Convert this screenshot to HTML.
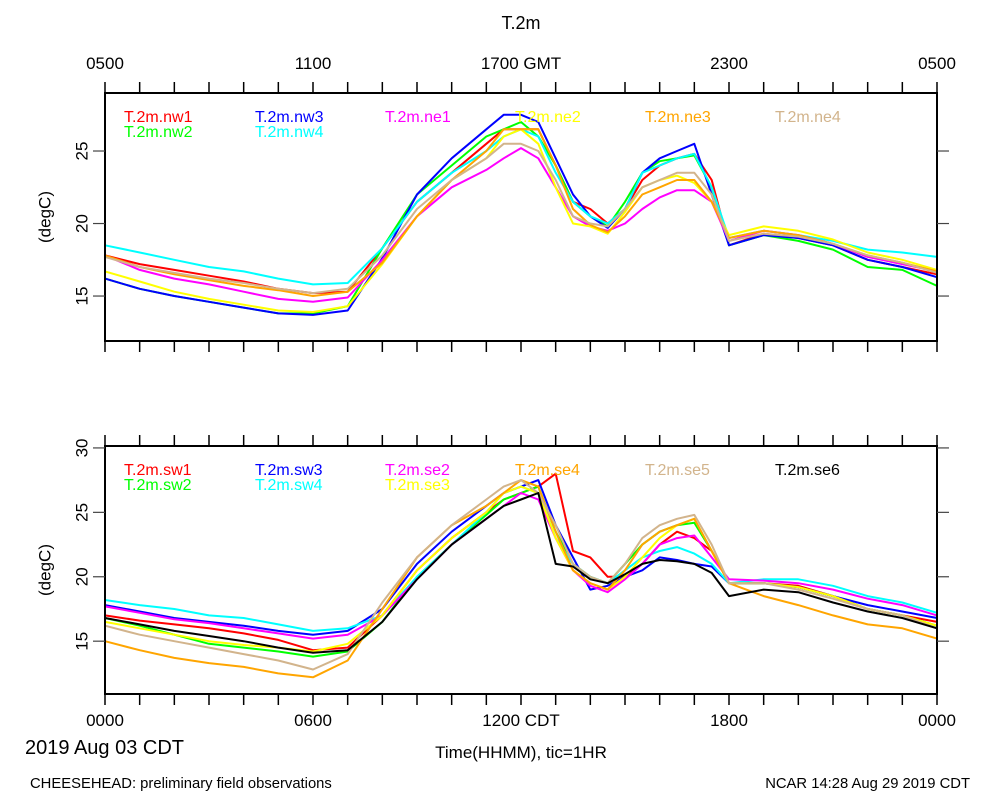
<!DOCTYPE html>
<html><head><meta charset="utf-8"><style>
html,body{margin:0;padding:0;background:#fff;}
svg{display:block;font-family:"Liberation Sans",sans-serif;}
</style></head><body>
<svg id="chart" width="1000" height="800" viewBox="0 0 1000 800">
<text x="521" y="29" font-size="18" text-anchor="middle">T.2m</text>
<text x="25" y="754" font-size="20">2019 Aug 03 CDT</text>
<text x="521" y="758" font-size="17" text-anchor="middle">Time(HHMM), tic=1HR</text>
<text x="30" y="788" font-size="14.8">CHEESEHEAD: preliminary field observations</text>
<text x="970" y="788" font-size="14.8" text-anchor="end">NCAR 14:28 Aug 29 2019 CDT</text>
</svg>
<script>
const times=[0,1,2,3,4,5,6,7,8,9,10,11,11.5,12,12.5,13,13.5,14,14.5,15,15.5,16,16.5,17,17.5,18,19,20,21,22,23,24];
const topTicks=[15,20,25];
const bottomTicks=[15,20,25,30];
const topXLabels=["0500","1100","1700 GMT","2300","0500"];
const bottomXLabels=["0000","0600","1200 CDT","1800","0000"];
const topNames=["T.2m.nw1","T.2m.nw2","T.2m.nw3","T.2m.nw4","T.2m.ne1","T.2m.ne2","T.2m.ne3","T.2m.ne4"];
const topColors=["#ff0000","#00ff00","#0000ff","#00ffff","#ff00ff","#ffff00","#ffa500","#d2b48c"];
const nw1=[17.8,17.2,16.8,16.4,16,15.5,15.2,15.3,18.3,21.5,23.5,25.5,26.5,26.5,26.5,24,21.5,21,20,21,23,24,24.5,24.8,23,18.5,19.3,19,18.5,17.5,17,16.5];
const nw2=[16.2,15.5,15,14.6,14.2,13.8,13.8,14.3,18.3,22,24,26,26.5,27,26,24,21.5,20.5,19.8,21.5,23.5,24.3,24.5,24.7,22.5,18.5,19.2,18.8,18.2,17,16.8,15.7];
const nw3=[16.2,15.5,15,14.6,14.2,13.8,13.7,14.0,17.6,22,24.5,26.5,27.5,27.5,27,24.5,22,20.5,19.7,21,23.5,24.5,25,25.5,22,18.5,19.2,19,18.5,17.5,17,16.3];
const nw4=[18.5,18,17.5,17,16.7,16.2,15.8,15.9,18.3,21.5,23.5,25,26,26.5,26,23.5,21.5,20.5,20,21,23.5,24,24.5,24.8,22.5,19,19.5,19.2,18.8,18.2,18,17.7];
const ne1=[17.8,16.8,16.2,15.8,15.3,14.8,14.6,14.9,17.5,20.5,22.5,23.7,24.5,25.2,24.5,22.5,20.5,19.8,19.5,20,21,21.8,22.3,22.3,21.5,18.8,19.5,19.2,18.6,17.7,17.2,16.7];
const ne2=[16.7,16,15.3,14.8,14.4,14,13.9,14.3,17.2,20.5,23,24.5,26,26.5,25.5,22.5,20,19.8,19.3,20.8,22.5,23,23.3,22.8,21.5,19.2,19.8,19.5,18.9,18,17.5,16.8];
const ne3=[17.8,17,16.5,16.1,15.7,15.4,15,15.3,17.3,20.5,23,25,26.5,26.5,26.5,24,21,19.9,19.4,20.5,22,22.5,23,23,21.5,19,19.5,19.2,18.6,17.8,17.3,16.7];
const ne4=[17.7,17,16.6,16.2,15.9,15.5,15.2,15.5,17.8,21,23,24.5,25.5,25.5,25,23,20.5,20,19.8,21,22.5,23,23.5,23.5,22,18.8,19.3,19.1,18.6,17.8,17.3,16.6];
const bottomNames=["T.2m.sw1","T.2m.sw2","T.2m.sw3","T.2m.sw4","T.2m.se2","T.2m.se3","T.2m.se4","T.2m.se5","T.2m.se6"];
const bottomColors=["#ff0000","#00ff00","#0000ff","#00ffff","#ff00ff","#ffff00","#ffa500","#d2b48c","#000000"];
const sw1=[17,16.6,16.3,16,15.6,15.1,14.3,14.5,17,20.5,23,25,26,26.5,27,28,22,21.5,20,20,21,22.5,23.5,23,22,19.5,19.5,19.3,18.5,17.5,17,16.5];
const sw2=[16.8,16.2,15.5,14.8,14.5,14.2,13.8,14.2,16.5,20,22.5,24.8,26,26.5,27,23.5,21,20,19.5,21,22.5,23.5,24,24.2,22,19.5,19.5,19.2,18.5,17.5,17,16.2];
const sw3=[17.8,17.3,16.8,16.5,16.2,15.8,15.5,15.8,17.5,21,23.5,25.5,26.5,27,27.5,24,21.5,19,19.3,20,20.5,21.5,21.3,21,20.8,19.5,19.5,19.2,18.5,17.8,17.3,16.8];
const sw4=[18.2,17.8,17.5,17,16.8,16.3,15.8,16,17,20,22.5,25,26.5,27,26.5,23,21,20,19.5,20.5,21.5,22,22.3,21.8,21,19.5,19.8,19.8,19.3,18.5,18,17.2];
const se2=[17.7,17.2,16.7,16.4,16,15.6,15.2,15.5,17,19.8,22.5,24.5,25.5,26.5,26,23,20.5,19.3,18.8,19.8,21,22.5,23,23.2,21.5,19.8,19.7,19.5,19,18.3,17.8,17];
const se3=[16.5,16,15.5,15,14.7,14.5,14.2,14.8,17,20.5,23,25,26.5,27,26.5,23,20.5,19.5,19,20,21.5,23,24,24.5,22,19.5,19.5,19.2,18.5,17.5,17,16.2];
const se4=[15,14.3,13.7,13.3,13,12.5,12.2,13.5,17.5,21.5,24,25.5,26.5,27.5,27,23.5,20.5,19.5,19,20.5,22.5,23.5,24,24.5,22,19.5,18.5,17.8,17,16.3,16,15.2];
const se5=[16.2,15.5,15,14.5,14,13.5,12.8,14,18,21.5,24,26,27,27.5,26.5,24,21,20,19.5,21,23,24,24.5,24.8,22.5,19.5,19.5,19,18.3,17.5,17,16];
const se6=[16.8,16.3,15.8,15.4,15,14.5,14.1,14.3,16.5,19.8,22.5,24.5,25.5,26,26.5,21,20.8,19.8,19.5,20.2,21,21.3,21.2,21,20.3,18.5,19,18.8,18,17.3,16.8,16];
const topSeries=[nw1,nw2,nw3,nw4,ne1,ne2,ne3,ne4];
const bottomSeries=[sw1,sw2,sw3,sw4,se2,se3,se4,se5,se6];

const NS="http://www.w3.org/2000/svg";
const svg=document.getElementById('chart');
const X0=105,X1=937;
function xScale(t){return X0+(X1-X0)*t/24;}
function mk(tag,attrs,parent){const e=document.createElementNS(NS,tag);for(const k in attrs)e.setAttribute(k,attrs[k]);(parent||svg).appendChild(e);return e;}

function panel(cfg){
  const g=mk('g',{});
  
  
  const yScale=v=>cfg.yb-(v-cfg.vmin)*(cfg.yb-cfg.yt)/(cfg.vmax-cfg.vmin);
  cfg.series.forEach((s,i)=>{
    const d=s.map((v,j)=>(j?'L':'M')+xScale(times[j]).toFixed(1)+' '+yScale(v).toFixed(1)).join(' ');
    const p=mk('path',{d:d,fill:'none',stroke:cfg.colors[i],'stroke-width':2,'stroke-linejoin':'round'},g);
    
    
  });
  const r=mk('rect',{x:X0,y:cfg.yt,width:X1-X0,height:cfg.yb-cfg.yt,fill:'none',stroke:'#000','stroke-width':2},g);
  
  
  for(let h=0;h<=24;h++){
    const x=xScale(h);
    mk('line',{x1:x,y1:cfg.yt,x2:x,y2:cfg.yt-11,stroke:'#000','stroke-width':1.5},g);
    mk('line',{x1:x,y1:cfg.yb,x2:x,y2:cfg.yb+11,stroke:'#000','stroke-width':1.5},g);
  }
  cfg.ticks.forEach(v=>{
    const y=yScale(v);
    mk('line',{x1:X0,y1:y,x2:X0-12,y2:y,stroke:'#444','stroke-width':1.2},g);
    mk('line',{x1:X1,y1:y,x2:X1+12,y2:y,stroke:'#444','stroke-width':1.2},g);
    const t=mk('text',{x:82,y:y,'font-size':17,'text-anchor':'middle',transform:'rotate(-90 82 '+y+')','dominant-baseline':'central'},g);
    t.textContent=v;
    
    
  });
  const yt=(cfg.yt+cfg.yb)/2;
  const yl=mk('text',{x:45,y:yt,'font-size':17,'text-anchor':'middle',transform:'rotate(-90 45 '+yt+')','dominant-baseline':'central'},g);
  yl.textContent='(degC)';
  
  
  cfg.xlabels.forEach((lab,i)=>{
    const t=mk('text',{x:xScale(i*6),y:cfg.xlabY,'font-size':17,'text-anchor':'middle'},g);
    t.textContent=lab;
    
    
  });
  cfg.names.forEach((n,i)=>{
    const lp=cfg.legendPos[i];
    const t=mk('text',{x:lp[0],y:lp[1],'font-size':16,fill:cfg.colors[i]},g);
    t.textContent=n;
    
    
  });
}
panel({name:'top-panel',yt:93,yb:341,vmin:11.9,vmax:29.0,series:topSeries,colors:topColors,names:topNames,ticks:topTicks,xlabels:topXLabels,xlabY:69,
  legendPos:[[124,122],[124,137],[255,122],[255,137],[385,122],[515,122],[645,122],[775,122]]});
panel({name:'bottom-panel',yt:446,yb:694,vmin:10.9,vmax:30.15,series:bottomSeries,colors:bottomColors,names:bottomNames,ticks:bottomTicks,xlabels:bottomXLabels,xlabY:726,
  legendPos:[[124,475],[124,490],[255,475],[255,490],[385,475],[385,490],[515,475],[645,475],[775,475]]});
</script>
</body></html>
